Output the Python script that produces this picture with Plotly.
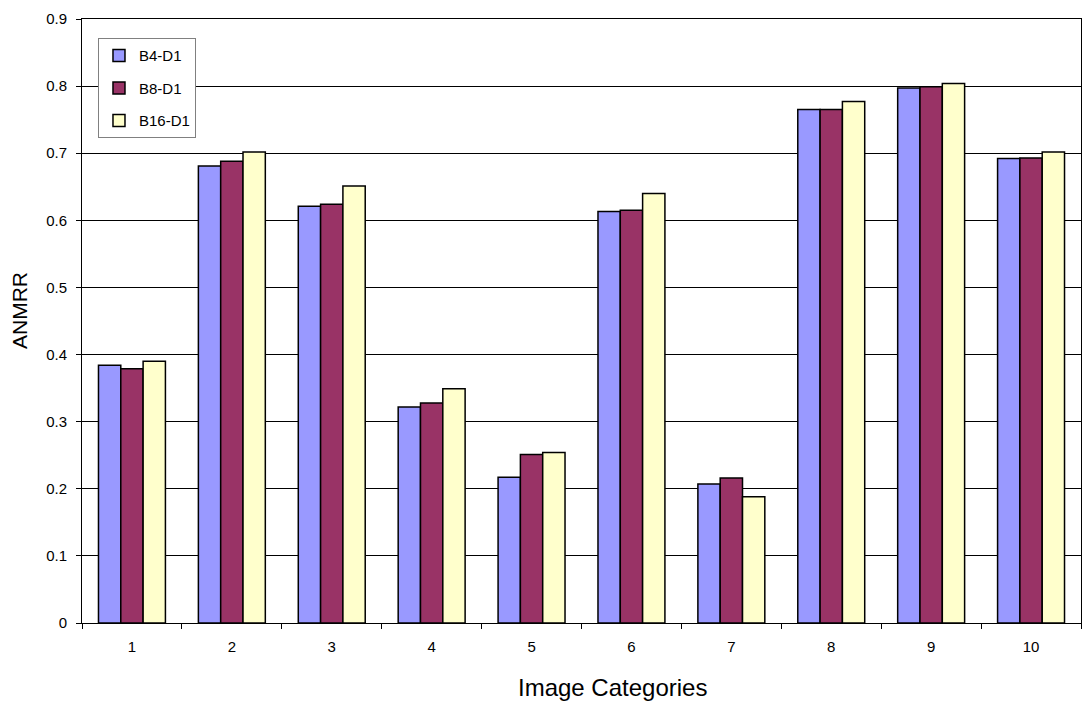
import plotly.graph_objects as go

categories = ["1", "2", "3", "4", "5", "6", "7", "8", "9", "10"]
b4_d1 = [0.384, 0.681, 0.621, 0.322, 0.217, 0.613, 0.207, 0.765, 0.797, 0.692]
b8_d1 = [0.379, 0.688, 0.624, 0.328, 0.251, 0.615, 0.216, 0.765, 0.799, 0.693]
b16_d1 = [0.390, 0.702, 0.651, 0.349, 0.254, 0.640, 0.188, 0.777, 0.804, 0.702]
y_ticks = [0, 0.1, 0.2, 0.3, 0.4, 0.5, 0.6, 0.7, 0.8, 0.9]

series = [
    ("B4-D1", b4_d1, "#9999FF"),
    ("B8-D1", b8_d1, "#993366"),
    ("B16-D1", b16_d1, "#FFFFCC"),
]

fig = go.Figure()
for name, vals, color in series:
    fig.add_trace(go.Bar(
        x=categories, y=vals, name=name, legendgroup=name,
        marker=dict(color=color, line=dict(color="black", width=1.5)),
    ))

font_family = "Liberation Sans, Arial, sans-serif"

fig.update_layout(
    width=1082, height=703,
    margin=dict(l=82, r=1, t=19, b=80),
    paper_bgcolor="white", plot_bgcolor="white",
    barmode="group", bargap=0.33, bargroupgap=0,
    font=dict(family=font_family, size=15, color="black"),
    legend=dict(
        x=0.016, y=0.968, xanchor="left", yanchor="top",
        bgcolor="white", bordercolor="#808080", borderwidth=1,
        font=dict(size=15), tracegroupgap=10,
    ),
    xaxis=dict(
        type="category", tickson="boundaries",
        ticks="outside", ticklen=5, tickcolor="black",
        ticklabelstandoff=10,
        showline=True, linecolor="black", linewidth=1, mirror=True,
        showgrid=False,
        tickfont=dict(size=15),
    ),
    yaxis=dict(
        range=[0, 0.9], tickvals=y_ticks,
        ticktext=[f"{v:g}" for v in y_ticks],
        ticks="outside", ticklen=5, tickcolor="black",
        ticklabelstandoff=6,
        showline=True, linecolor="black", linewidth=1, mirror=True,
        showgrid=True, gridcolor="black", gridwidth=1,
        zeroline=False,
        tickfont=dict(size=15),
    ),
    annotations=[
        dict(text="Image Categories", xref="paper", yref="paper",
             x=0.5315, y=-0.1076, xanchor="center", yanchor="middle",
             showarrow=False, font=dict(size=24)),
        dict(text="ANMRR", xref="paper", yref="paper",
             x=-0.062, y=0.5166, xanchor="center", yanchor="middle",
             textangle=-90, showarrow=False, font=dict(size=21)),
    ],
)

fig.write_html("out.html")
